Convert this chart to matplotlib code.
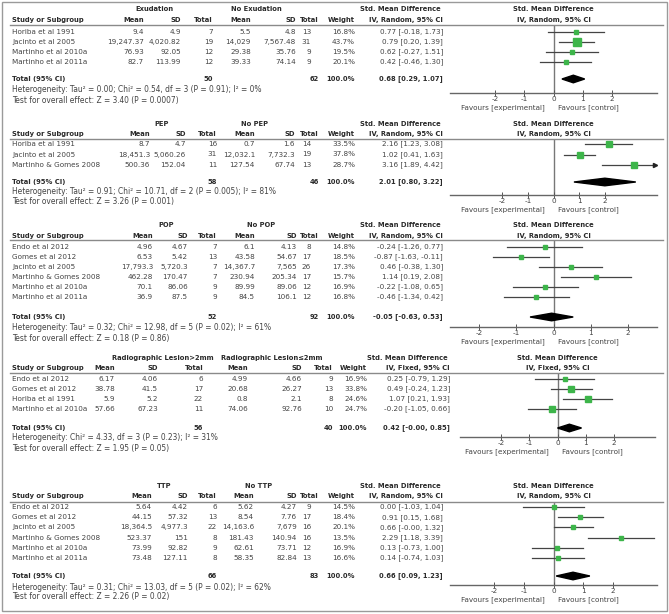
import matplotlib
matplotlib.use("Agg")
import matplotlib.pyplot as plt
from matplotlib.patches import Rectangle, Polygon
from matplotlib.lines import Line2D

W, H = 669, 614
FS = 5.2      # regular text
FSH = 5.45    # heterogeneity / test lines
FSB = 4.9     # bold text (DejaVu bold runs wide)
TXT = "#2a2a2a"
VAL = "#444444"
GREEN = "#3db54a"
GRAY = "#777777"

# ---------- data: Exudation ----------
exu_studies = ["Horiba et al 1991", "Jacinto et al 2005", "Martinho et al 2010a", "Martinho et al 2011a"]
exu_mean1 = ["9.4", "19,247.37", "76.93", "82.7"]
exu_sd1 = ["4.9", "4,020.82", "92.05", "113.99"]
exu_n1 = [7, 19, 12, 12]
exu_mean2 = ["5.5", "14,029", "29.38", "39.33"]
exu_sd2 = ["4.8", "7,567.48", "35.76", "74.14"]
exu_n2 = [13, 31, 9, 9]
exu_weight = [16.8, 43.7, 19.5, 20.1]
exu_smd = [0.77, 0.79, 0.62, 0.42]
exu_lo = [-0.18, 0.20, -0.27, -0.46]
exu_hi = [1.73, 1.39, 1.51, 1.30]
exu_total = (50, 62, 0.68, 0.29, 1.07)
exu_het = "Heterogeneity: Tau² = 0.00; Chi² = 0.54, df = 3 (P = 0.91); I² = 0%"
exu_test = "Test for overall effect: Z = 3.40 (P = 0.0007)"

# ---------- data: PEP ----------
pep_studies = ["Horiba et al 1991", "Jacinto et al 2005", "Martinho & Gomes 2008"]
pep_mean1 = ["8.7", "18,451.3", "500.36"]
pep_sd1 = ["4.7", "5,060.26", "152.04"]
pep_n1 = [16, 31, 11]
pep_mean2 = ["0.7", "12,032.1", "127.54"]
pep_sd2 = ["1.6", "7,732.3", "67.74"]
pep_n2 = [14, 19, 13]
pep_weight = [33.5, 37.8, 28.7]
pep_smd = [2.16, 1.02, 3.16]
pep_lo = [1.23, 0.41, 1.89]
pep_hi = [3.08, 1.63, 4.42]
pep_total = (58, 46, 2.01, 0.80, 3.22)
pep_het = "Heterogeneity: Tau² = 0.91; Chi² = 10.71, df = 2 (P = 0.005); I² = 81%"
pep_test = "Test for overall effect: Z = 3.26 (P = 0.001)"

# ---------- data: POP ----------
pop_studies = ["Endo et al 2012", "Gomes et al 2012", "Jacinto et al 2005", "Martinho & Gomes 2008",
               "Martinho et al 2010a", "Martinho et al 2011a"]
pop_mean1 = ["4.96", "6.53", "17,793.3", "462.28", "70.1", "36.9"]
pop_sd1 = ["4.67", "5.42", "5,720.3", "170.47", "86.06", "87.5"]
pop_n1 = [7, 13, 7, 7, 9, 9]
pop_mean2 = ["6.1", "43.58", "14,367.7", "230.94", "89.99", "84.5"]
pop_sd2 = ["4.13", "54.67", "7,565", "205.34", "89.06", "106.1"]
pop_n2 = [8, 17, 26, 17, 12, 12]
pop_weight = [14.8, 18.5, 17.3, 15.7, 16.9, 16.8]
pop_smd = [-0.24, -0.87, 0.46, 1.14, -0.22, -0.46]
pop_lo = [-1.26, -1.63, -0.38, 0.19, -1.08, -1.34]
pop_hi = [0.77, -0.11, 1.30, 2.08, 0.65, 0.42]
pop_total = (52, 92, -0.05, -0.63, 0.53)
pop_het = "Heterogeneity: Tau² = 0.32; Chi² = 12.98, df = 5 (P = 0.02); I² = 61%"
pop_test = "Test for overall effect: Z = 0.18 (P = 0.86)"

# ---------- data: Radiographic lesion ----------
rad_studies = ["Endo et al 2012", "Gomes et al 2012", "Horiba et al 1991", "Martinho et al 2010a"]
rad_mean1 = ["6.17", "38.78", "5.9", "57.66"]
rad_sd1 = ["4.06", "41.5", "5.2", "67.23"]
rad_n1 = [6, 17, 22, 11]
rad_mean2 = ["4.99", "20.68", "0.8", "74.06"]
rad_sd2 = ["4.66", "26.27", "2.1", "92.76"]
rad_n2 = [9, 13, 8, 10]
rad_weight = [16.9, 33.8, 24.6, 24.7]
rad_smd = [0.25, 0.49, 1.07, -0.20]
rad_lo = [-0.79, -0.24, 0.21, -1.05]
rad_hi = [1.29, 1.23, 1.93, 0.66]
rad_total = (56, 40, 0.42, -0.0, 0.85)
rad_het = "Heterogeneity: Chi² = 4.33, df = 3 (P = 0.23); I² = 31%"
rad_test = "Test for overall effect: Z = 1.95 (P = 0.05)"

# ---------- data: TTP ----------
ttp_studies = ["Endo et al 2012", "Gomes et al 2012", "Jacinto et al 2005", "Martinho & Gomes 2008",
               "Martinho et al 2010a", "Martinho et al 2011a"]
ttp_mean1 = ["5.64", "44.15", "18,364.5", "523.37", "73.99", "73.48"]
ttp_sd1 = ["4.42", "57.32", "4,977.3", "151", "92.82", "127.11"]
ttp_n1 = [6, 13, 22, 8, 9, 8]
ttp_mean2 = ["5.62", "8.54", "14,163.6", "181.43", "62.61", "58.35"]
ttp_sd2 = ["4.27", "7.76", "7,679", "140.94", "73.71", "82.84"]
ttp_n2 = [9, 17, 16, 16, 12, 13]
ttp_weight = [14.5, 18.4, 20.1, 13.5, 16.9, 16.6]
ttp_smd = [0.00, 0.91, 0.66, 2.29, 0.13, 0.14]
ttp_lo = [-1.03, 0.15, -0.00, 1.18, -0.73, -0.74]
ttp_hi = [1.04, 1.68, 1.32, 3.39, 1.00, 1.03]
ttp_total = (66, 83, 0.66, 0.09, 1.23)
ttp_het = "Heterogeneity: Tau² = 0.31; Chi² = 13.03, df = 5 (P = 0.02); I² = 62%"
ttp_test = "Test for overall effect: Z = 2.26 (P = 0.02)"

panels = [
    dict(g1="Exudation", g2="No Exudation", method="IV, Random, 95% CI",
         studies=exu_studies, m1=exu_mean1, s1=exu_sd1, n1=exu_n1, m2=exu_mean2, s2=exu_sd2, n2=exu_n2,
         w=exu_weight, smd=exu_smd, lo=exu_lo, hi=exu_hi, total=exu_total, het=exu_het, test=exu_test,
         title_y=9, head_y=20, line_y=25, row0=32, step=10, total_y=79, het_y=90, test_y=100, axis_y=93,
         cols=[144, 181, 213, 251, 296, 311], th2=319, wr=355, sr=443, gc=(154, 256), px=(450, 657), lim=3.55),
    dict(g1="PEP", g2="No PEP", method="IV, Random, 95% CI",
         studies=pep_studies, m1=pep_mean1, s1=pep_sd1, n1=pep_n1, m2=pep_mean2, s2=pep_sd2, n2=pep_n2,
         w=pep_weight, smd=pep_smd, lo=pep_lo, hi=pep_hi, total=pep_total, het=pep_het, test=pep_test,
         title_y=124, head_y=134, line_y=139, row0=144, step=10.5, total_y=182, het_y=192, test_y=202, axis_y=195,
         cols=[150, 186, 217, 255, 295, 311], th2=319, wr=355, sr=443, gc=(162, 254), px=(450, 657), lim=4.05),
    dict(g1="POP", g2="No POP", method="IV, Random, 95% CI",
         studies=pop_studies, m1=pop_mean1, s1=pop_sd1, n1=pop_n1, m2=pop_mean2, s2=pop_sd2, n2=pop_n2,
         w=pop_weight, smd=pop_smd, lo=pop_lo, hi=pop_hi, total=pop_total, het=pop_het, test=pop_test,
         title_y=225, head_y=236, line_y=240, row0=247, step=10, total_y=317, het_y=328, test_y=338, axis_y=327,
         cols=[153, 188, 217, 255, 297, 311], th2=319, wr=355, sr=443, gc=(166, 261), px=(450, 657), lim=2.78),
    dict(g1="Radiographic Lesion>2mm", g2="Radiographic Lesion≤2mm", method="IV, Fixed, 95% CI",
         studies=rad_studies, m1=rad_mean1, s1=rad_sd1, n1=rad_n1, m2=rad_mean2, s2=rad_sd2, n2=rad_n2,
         w=rad_weight, smd=rad_smd, lo=rad_lo, hi=rad_hi, total=rad_total, het=rad_het, test=rad_test,
         title_y=358, head_y=368, line_y=373, row0=379, step=10, total_y=428, het_y=438, test_y=448, axis_y=437,
         cols=[115, 158, 203, 248, 302, 333], th2=333, wr=367, sr=450, gc=(163, 272), px=(460, 655), lim=3.45),
    dict(g1="TTP", g2="No TTP", method="IV, Random, 95% CI",
         studies=ttp_studies, m1=ttp_mean1, s1=ttp_sd1, n1=ttp_n1, m2=ttp_mean2, s2=ttp_sd2, n2=ttp_n2,
         w=ttp_weight, smd=ttp_smd, lo=ttp_lo, hi=ttp_hi, total=ttp_total, het=ttp_het, test=ttp_test,
         title_y=486, head_y=496, line_y=502, row0=507, step=10.2, total_y=576, het_y=587, test_y=597, axis_y=585,
         cols=[152, 188, 217, 254, 297, 311], th2=319, wr=355, sr=443, gc=(164, 259), px=(450, 657), lim=3.5),
]

plt.rcParams["font.family"] = ["DejaVu Sans"]
fig = plt.figure(figsize=(W / 100, H / 100), dpi=100)
fig.patch.set_facecolor("white")


def put(x, y, s, ha="left", bold=False, color=VAL, size=None):
    if size is None:
        size = FSB if bold else FS
    fig.text(x / W, 1 - y / H, s, ha=ha, va="center", fontsize=size,
             fontweight="bold" if bold else "normal", color=color)


def ci_text(m, lo, hi):
    return f"{m:.2f} [{lo:.2f}, {hi:.2f}]"


for p in panels:
    c = p["cols"]
    x0, x1 = p["px"]
    zero_px = (x0 + x1) / 2
    # header rows
    put(p["gc"][0], p["title_y"], p["g1"], ha="center", bold=True, color=TXT)
    put(p["gc"][1], p["title_y"], p["g2"], ha="center", bold=True, color=TXT)
    put(12, p["head_y"], "Study or Subgroup", bold=True, color=TXT)
    head_x = c[:5] + [p["th2"]]
    for x, lab in zip(head_x, ["Mean", "SD", "Total", "Mean", "SD", "Total"]):
        put(x, p["head_y"], lab, ha="right", bold=True, color=TXT)
    put(p["wr"], p["head_y"], "Weight", ha="right", bold=True, color=TXT)
    put(p["sr"] - 2, p["title_y"], "Std. Mean Difference", ha="right", bold=True, color=TXT)
    put(p["sr"], p["head_y"], p["method"], ha="right", bold=True, color=TXT)
    put(zero_px, p["title_y"], "Std. Mean Difference", ha="center", bold=True, color=TXT)
    put(zero_px, p["head_y"], p["method"], ha="center", bold=True, color=TXT)
    fig.add_artist(Line2D([10 / W, 663 / W], [1 - p["line_y"] / H] * 2, color="#8a8a8a", lw=1.0))

    # study rows
    for i, name in enumerate(p["studies"]):
        y = p["row0"] + i * p["step"]
        put(12, y, name)
        cells = [p["m1"][i], p["s1"][i], str(p["n1"][i]), p["m2"][i], p["s2"][i], str(p["n2"][i])]
        for x, s in zip(c, cells):
            put(x, y, s, ha="right")
        put(p["wr"], y, f"{p['w'][i]:.1f}%", ha="right")
        put(p["sr"], y, ci_text(p["smd"][i], p["lo"][i], p["hi"][i]), ha="right")

    tn1, tn2, tm, tlo, thi = p["total"]
    put(12, p["total_y"], "Total (95% CI)", bold=True, color=TXT)
    put(c[2], p["total_y"], str(tn1), ha="right", bold=True, color=TXT)
    put(p["th2"], p["total_y"], str(tn2), ha="right", bold=True, color=TXT)
    put(p["wr"], p["total_y"], "100.0%", ha="right", bold=True, color=TXT)
    put(p["sr"], p["total_y"], ci_text(tm, tlo, thi), ha="right", bold=True, color=TXT)
    put(12, p["het_y"], p["het"], size=FSH)
    put(12, p["test_y"], p["test"], size=FSH)

    # forest plot axes (y in pixel units so rows line up with the table)
    ax = fig.add_axes([x0 / W, 1 - p["axis_y"] / H, (x1 - x0) / W, (p["axis_y"] - p["line_y"]) / H])
    ax.set_facecolor("none")
    ax.set_xlim(-p["lim"], p["lim"])
    ax.set_ylim(p["axis_y"], p["line_y"])
    for s in ("top", "left", "right"):
        ax.spines[s].set_visible(False)
    ax.spines["bottom"].set_color("#666666")
    ax.spines["bottom"].set_linewidth(1.0)
    ax.set_yticks([])
    ax.set_xticks([-2, -1, 0, 1, 2])
    ax.set_xticklabels(["-2", "-1", "0", "1", "2"])
    ax.tick_params(axis="x", direction="inout", length=4, width=0.7, color="#555555",
                   labelsize=FS, labelcolor=VAL, pad=0.5)
    ax.axvline(0, color=GRAY, lw=1.0, zorder=1)

    for i in range(len(p["studies"])):
        y = p["row0"] + i * p["step"]
        lo, hi = p["lo"][i], p["hi"][i]
        right = min(hi, p["lim"] - 0.08)
        ax.plot([lo, right], [y, y], color="#444444", lw=0.9, zorder=2)
        if hi > p["lim"]:
            ax.plot(right, y, marker=">", ms=3, color="#222222", zorder=3, clip_on=False)
        side = 2.6 + 0.11 * p["w"][i]
        ax.plot(p["smd"][i], y, marker="s", ms=side * 0.72, color=GREEN, mec=GREEN, zorder=4)

    ty = p["total_y"]
    ax.add_patch(Polygon([(tlo, ty), (tm, ty - 3.8), (thi, ty), (tm, ty + 3.8)],
                         closed=True, color="black", zorder=4))

    ax.annotate("Favours [experimental]", xy=(0, 0), xycoords=("data", "axes fraction"),
                xytext=(-9, -11), textcoords="offset pixels", ha="right", va="top",
                fontsize=FS, color=VAL)
    ax.annotate("Favours [control]", xy=(0, 0), xycoords=("data", "axes fraction"),
                xytext=(4, -11), textcoords="offset pixels", ha="left", va="top",
                fontsize=FS, color=VAL)

fig.add_artist(Rectangle((1.5 / W, 1 - 610.5 / H), 665 / W, 609 / H, transform=fig.transFigure,
                         fill=False, edgecolor="#9a9a9a", lw=1.0))

fig.savefig("out.png", dpi=100, facecolor="white")
